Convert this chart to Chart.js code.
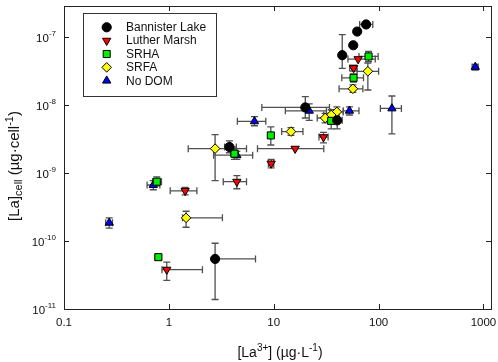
<!DOCTYPE html>
<html><head><meta charset="utf-8">
<script src="https://cdn.jsdelivr.net/npm/chart.js@4.4.1/dist/chart.umd.min.js"></script>
<style>html,body{margin:0;padding:0;background:#fff}</style>
</head><body>
<canvas id="c" width="498" height="362"></canvas>
<script>
// Bannister Lake
const blX = [76, 62.5, 57.3, 45, 20, 40.3, 3.78, 2.76];
const blY = [1.55e-7, 1.22e-7, 7.66e-8, 5.47e-8, 9.3e-9, 6.0e-9, 2.43e-9, 5.46e-11];
const blXlo = [66, 59, null, null, 7.7, 36, 3.4, null];
const blXhi = [88, 66, null, null, 34, 45, 4.4, 6.7];
const blYlo = [null, null, null, 3.5e-8, 6.5e-9, 4.5e-9, 2.0e-9, 1.38e-11];
const blYhi = [null, null, null, 1.1e-7, 1.34e-8, 8e-9, 3.0e-9, 9.3e-11];
// Luther Marsh
const lmX = [63.8, 57.7, 29.8, 16, 9.45, 4.45, 1.43, 0.955];
const lmY = [4.79e-8, 3.54e-8, 3.4e-9, 2.3e-9, 1.39e-9, 7.5e-10, 5.5e-10, 3.8e-11];
const lmXlo = [51, 53, 27, 7.0, 8.9, 3.3, 1.03, 0.86];
const lmXhi = [93, 62, 33, 30, 10, 5.5, 1.85, 2.09];
const lmYlo = [null, 3.2e-8, 2.8e-9, null, 1.2e-9, 5.9e-10, 4.8e-10, 2.64e-11];
const lmYhi = [null, 3.9e-8, 4.0e-9, null, 1.6e-9, 9.2e-10, 6.2e-10, 4.9e-11];
// SRHA
const shX = [80.2, 57.7, 35.3, 9.38, 4.22, 0.767, 0.794];
const shY = [5.24e-8, 2.54e-8, 5.9e-9, 3.6e-9, 1.94e-9, 7.5e-10, 5.8e-11];
const shXlo = [65, 44.6, 33, 8.8, 3.9, 0.7, 0.74];
const shXhi = [99, 71.8, 38, 10, 4.6, 0.85, 0.85];
const shYlo = [4.4e-8, 2.2e-8, 4.5e-9, 2.6e-9, 1.6e-9, 6.5e-10, 5.2e-11];
const shYhi = [6.2e-8, 2.9e-8, 7.5e-9, 4.8e-9, 2.3e-9, 8.8e-10, 6.5e-11];
// SRFA
const sfX = [79, 56.9, 40, 35.3, 30.9, 14.6, 2.76, 1.46];
const sfY = [3.17e-8, 1.75e-8, 8.0e-9, 7.2e-9, 6.5e-9, 4.1e-9, 2.3e-9, 2.2e-10];
const sfXlo = [62.4, 42, 35, 30, 26, 11.9, 1.53, 1.35];
const sfXhi = [100, 70.8, 46, 42, 36, 19, 5.5, 3.24];
const sfYlo = [1.68e-8, 1.55e-8, 6.5e-9, 6.0e-9, 5.5e-9, 3.6e-9, 7.8e-10, 1.6e-10];
const sfYhi = [4.2e-8, 2.0e-8, 9.5e-9, 8.6e-9, 7.6e-9, 4.7e-9, 3.7e-9, 2.75e-10];
// No DOM
const ndX = [836, 134, 52.7, 21.8, 6.55, 4.45, 0.71, 0.27];
const ndY = [3.67e-8, 8.98e-9, 8.3e-9, 8.3e-9, 5.8e-9, 1.84e-9, 6.7e-10, 1.86e-10];
const ndXlo = [780, 104, 46, 12.9, 4.5, 2.67, 0.62, 0.25];
const ndXhi = [890, 165, 65, 31.8, 8.4, 6.3, 0.82, 0.29];
const ndYlo = [3.3e-8, 3.8e-9, 7.2e-9, 6.0e-9, 5.0e-9, 1.6e-9, 5.7e-10, 1.55e-10];
const ndYhi = [4.0e-8, 1.37e-8, 9.5e-9, 1.05e-8, 6.8e-9, 2.1e-9, 7.8e-10, 2.2e-10];

const xTicks = [0.1, 1, 10, 100, 1000];
const xTickLabels = ['0.1', '1', '10', '100', '1000'];
const yTicks = [1e-11, 1e-10, 1e-9, 1e-8, 1e-7];
const yTickExps = ['-11', '-10', '-9', '-8', '-7'];

function mk(x, y, xlo, xhi, ylo, yhi) {
  return x.map((v, i) => ({x: v, y: y[i], xlo: xlo[i], xhi: xhi[i], ylo: ylo[i], yhi: yhi[i]}));
}

const FONT = 'Liberation Sans, Arial, sans-serif';

function rich(ctx, parts, x, y) {
  let w = 0;
  parts.forEach(p => { ctx.font = p.s + 'px ' + FONT; w += ctx.measureText(p.t).width; });
  let cx = x - w / 2;
  ctx.textAlign = 'left';
  ctx.textBaseline = 'alphabetic';
  parts.forEach(p => {
    ctx.font = p.s + 'px ' + FONT;
    ctx.fillText(p.t, cx, y + (p.dy || 0));
    cx += ctx.measureText(p.t).width;
  });
}

const errBars = {
  id: 'errBars',
  beforeDatasetsDraw(chart) {
    const ctx = chart.ctx, xs = chart.scales.x, ys = chart.scales.y;
    const cap = 3.5;
    ctx.save();
    ctx.strokeStyle = '#505050';
    ctx.lineWidth = 1.3;
    chart.data.datasets.forEach(ds => {
      ds.data.forEach(d => {
        const px = xs.getPixelForValue(d.x), py = ys.getPixelForValue(d.y);
        ctx.beginPath();
        if (d.xlo != null) {
          const a = xs.getPixelForValue(d.xlo);
          ctx.moveTo(px, py); ctx.lineTo(a, py);
          ctx.moveTo(a, py - cap); ctx.lineTo(a, py + cap);
        }
        if (d.xhi != null) {
          const b = xs.getPixelForValue(d.xhi);
          ctx.moveTo(px, py); ctx.lineTo(b, py);
          ctx.moveTo(b, py - cap); ctx.lineTo(b, py + cap);
        }
        if (d.ylo != null) {
          const a = ys.getPixelForValue(d.ylo);
          ctx.moveTo(px, py); ctx.lineTo(px, a);
          ctx.moveTo(px - cap, a); ctx.lineTo(px + cap, a);
        }
        if (d.yhi != null) {
          const b = ys.getPixelForValue(d.yhi);
          ctx.moveTo(px, py); ctx.lineTo(px, b);
          ctx.moveTo(px - cap, b); ctx.lineTo(px + cap, b);
        }
        ctx.stroke();
      });
    });
    ctx.restore();
  }
};

const frame = {
  id: 'frame',
  afterDraw(chart) {
    const ctx = chart.ctx, xs = chart.scales.x, ys = chart.scales.y;
    const a = chart.chartArea, tl = 5;
    ctx.save();
    ctx.strokeStyle = '#222';
    ctx.lineWidth = 1;
    ctx.strokeRect(a.left + 0.5, a.top + 0.5, a.right - a.left, a.bottom - a.top);
    ctx.beginPath();
    xTicks.forEach(t => {
      const p = Math.round(xs.getPixelForValue(t)) + 0.5;
      ctx.moveTo(p, a.bottom); ctx.lineTo(p, a.bottom - tl);
      ctx.moveTo(p, a.top); ctx.lineTo(p, a.top + tl);
    });
    yTicks.forEach(t => {
      const p = Math.round(ys.getPixelForValue(t)) + 0.5;
      ctx.moveTo(a.left, p); ctx.lineTo(a.left + tl, p);
      ctx.moveTo(a.right, p); ctx.lineTo(a.right - tl, p);
    });
    ctx.stroke();

    ctx.fillStyle = '#111';
    ctx.font = '11.5px ' + FONT;
    ctx.textAlign = 'center';
    ctx.textBaseline = 'middle';
    xTicks.forEach((t, i) => ctx.fillText(xTickLabels[i], xs.getPixelForValue(t), a.bottom + 14));

    yTicks.forEach((t, i) => {
      const p = ys.getPixelForValue(t);
      ctx.font = '8px ' + FONT;
      const ew = ctx.measureText(yTickExps[i]).width;
      ctx.textAlign = 'right';
      ctx.textBaseline = 'alphabetic';
      ctx.fillText(yTickExps[i], 56, p - 1);
      ctx.font = '11.5px ' + FONT;
      ctx.fillText('10', 56 - ew, p + 4.5);
    });

    rich(ctx, [
      {t: '[La', s: 14}, {t: '3+', s: 10, dy: -6}, {t: '] (µg·L', s: 14},
      {t: '-1', s: 10, dy: -6}, {t: ')', s: 14}
    ], 280, 357);

    ctx.save();
    ctx.translate(19, 166);
    ctx.rotate(-Math.PI / 2);
    rich(ctx, [
      {t: '[La]', s: 15}, {t: 'cell', s: 11, dy: 3}, {t: ' (µg·cell', s: 15},
      {t: '-1', s: 11, dy: -6}, {t: ')', s: 15}
    ], 0, 0);
    ctx.restore();

    // legend
    ctx.fillStyle = '#fff';
    ctx.fillRect(83, 13, 133, 83);
    ctx.strokeStyle = '#333';
    ctx.strokeRect(83.5, 13.5, 133, 83);
    chart.data.datasets.forEach((ds, i) => {
      const ly = 27.3 + i * 13.35;
      ctx.fillStyle = ds.backgroundColor;
      ctx.strokeStyle = '#000';
      ctx.lineWidth = 1;
      Chart.helpers.drawPoint(ctx, {pointStyle: ds.pointStyle, radius: ds.pointRadius, rotation: ds.rotation || 0, borderWidth: 1}, 106.7, ly);
      ctx.fillStyle = '#111';
      ctx.font = '12px ' + FONT;
      ctx.textAlign = 'left';
      ctx.textBaseline = 'middle';
      ctx.fillText(ds.label, 126, ly + 0.5);
    });
    ctx.restore();
  }
};

const common = {borderColor: '#000', borderWidth: 1, showLine: false};
new Chart(document.getElementById('c'), {
  type: 'scatter',
  data: {
    datasets: [
      {...common, label: 'Bannister Lake', data: mk(blX, blY, blXlo, blXhi, blYlo, blYhi), backgroundColor: '#000000', pointStyle: 'circle', pointRadius: 4.6},
      {...common, label: 'Luther Marsh', data: mk(lmX, lmY, lmXlo, lmXhi, lmYlo, lmYhi), backgroundColor: '#ff0000', pointStyle: 'triangle', rotation: 180, pointRotation: 180, pointRadius: 4.8},
      {...common, label: 'SRHA', data: mk(shX, shY, shXlo, shXhi, shYlo, shYhi), backgroundColor: '#00ee00', pointStyle: 'rect', pointRadius: 5},
      {...common, label: 'SRFA', data: mk(sfX, sfY, sfXlo, sfXhi, sfYlo, sfYhi), backgroundColor: '#ffff00', pointStyle: 'rectRot', pointRadius: 4.8},
      {...common, label: 'No DOM', data: mk(ndX, ndY, ndXlo, ndXhi, ndYlo, ndYhi), backgroundColor: '#0000ff', pointStyle: 'triangle', pointRadius: 4.8}
    ]
  },
  options: {
    responsive: false,
    animation: false,
    layout: {padding: {left: 64, right: 7, top: 2, bottom: 53}},
    plugins: {legend: {display: false}, tooltip: {enabled: false}},
    scales: {
      x: {type: 'logarithmic', min: 0.1, max: 1180, display: false},
      y: {type: 'logarithmic', min: 1e-11, max: 2.9e-7, display: false}
    }
  },
  plugins: [errBars, frame]
});
</script></body></html>
